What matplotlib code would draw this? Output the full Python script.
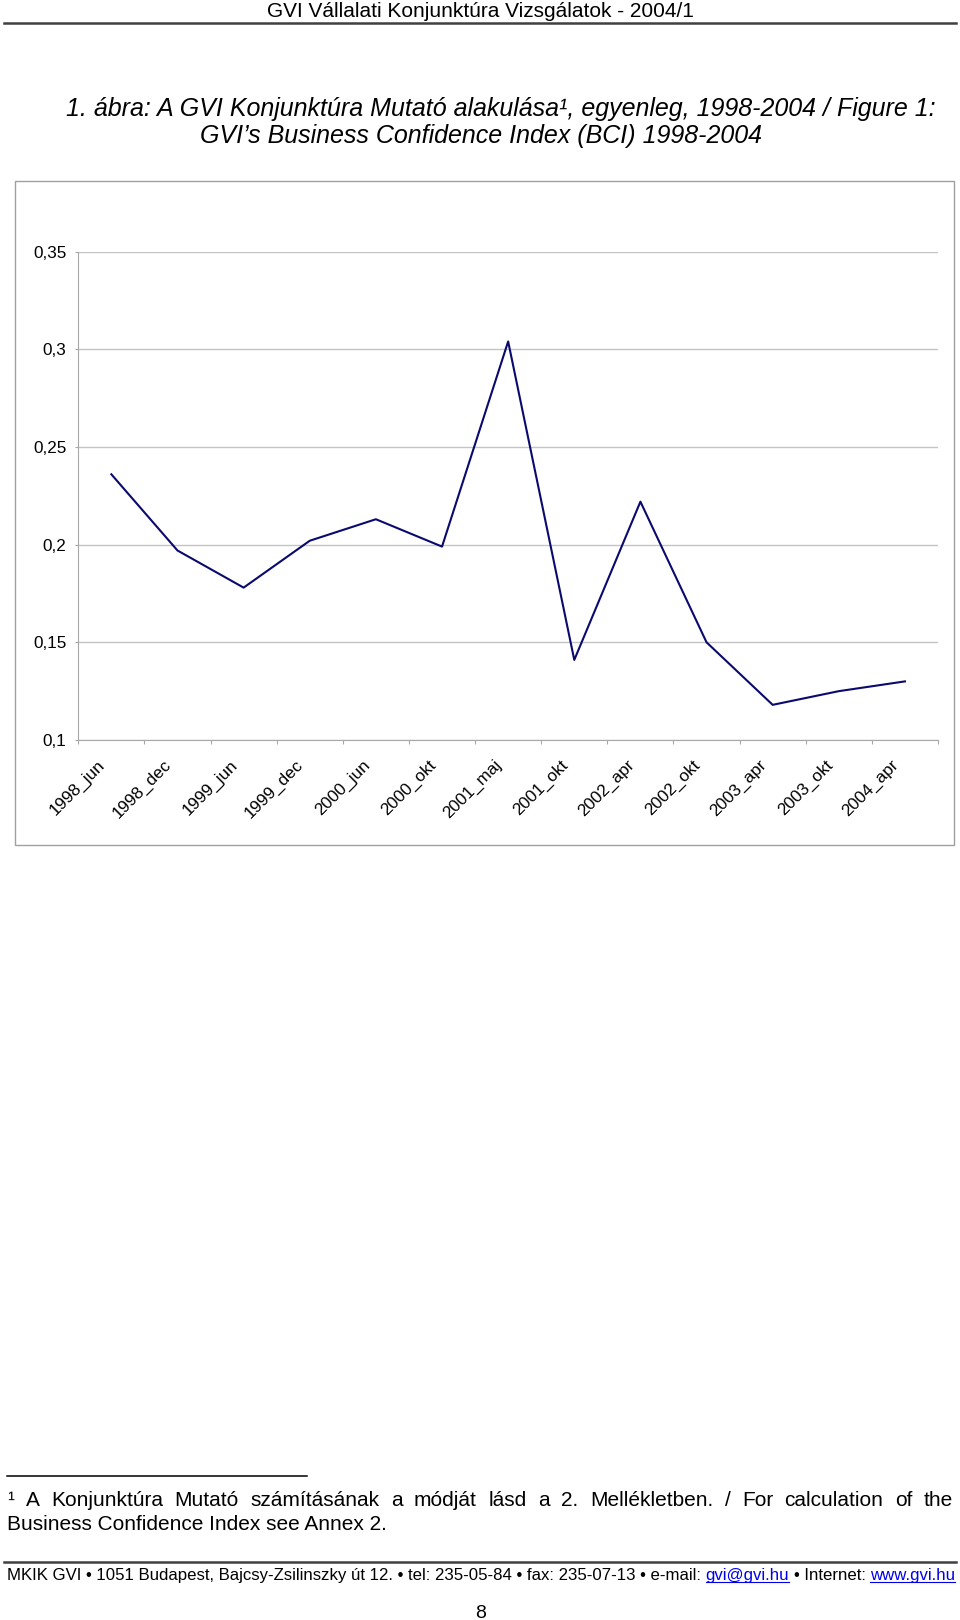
import matplotlib
matplotlib.use("Agg")
import matplotlib.pyplot as plt
import matplotlib.transforms as mtransforms
from matplotlib.lines import Line2D
from matplotlib.patches import Rectangle

plt.rcParams['font.family'] = ['Liberation Sans', 'DejaVu Sans']

# data
categories = ["1998_jun", "1998_dec", "1999_jun", "1999_dec", "2000_jun", "2000_okt",
              "2001_maj", "2001_okt", "2002_apr", "2002_okt", "2003_apr", "2003_okt", "2004_apr"]
bci = [0.236, 0.197, 0.178, 0.202, 0.213, 0.199, 0.304, 0.141, 0.222, 0.150, 0.118, 0.125, 0.130]
y_ticks = [0.1, 0.15, 0.2, 0.25, 0.3, 0.35]
y_tick_labels = ["0,1", "0,15", "0,2", "0,25", "0,3", "0,35"]

header = "GVI Vállalati Konjunktúra Vizsgálatok - 2004/1"
title1 = "1. ábra: A GVI Konjunktúra Mutató alakulása¹, egyenleg, 1998-2004 / Figure 1:"
title2 = "GVI’s Business Confidence Index (BCI) 1998-2004"
note1 = "¹ A Konjunktúra Mutató számításának a módját lásd a 2. Mellékletben. / For calculation of the"
note2 = "Business Confidence Index see Annex 2."
footer = [("MKIK GVI • 1051 Budapest, Bajcsy-Zsilinszky út 12. • tel: 235-05-84 • fax: 235-07-13 • e-mail:", False),
          ("gvi@gvi.hu", True), ("• Internet:", False), ("www.gvi.hu", True)]

W, H = 960, 1620
fig = plt.figure(figsize=(W/100, H/100), dpi=100)
renderer = fig.canvas.get_renderer()

def fx(x): return x / W
def fy(y): return 1 - y / H

def hline(x0, x1, y, lw, color):
    fig.add_artist(Line2D([fx(x0), fx(x1)], [fy(y), fy(y)], transform=fig.transFigure,
                          lw=lw, color=color))

def width(t):
    return t.get_window_extent(renderer).width

def space_width(size):
    a = fig.text(0, 0, "a a", fontsize=size)
    b = fig.text(0, 0, "aa", fontsize=size)
    w = width(a) - width(b)
    a.remove(); b.remove()
    return w

# page header
fig.text(fx(480), fy(17), header, fontsize=15.0, ha="center", va="baseline")
hline(4, 956, 23.3, 1.8, "#404040")

# figure title
fig.text(fx(501), fy(115.7), title1, fontsize=18, style="italic", ha="center", va="baseline")
fig.text(fx(481), fy(143.3), title2, fontsize=18, style="italic", ha="center", va="baseline")

# chart frame
fig.add_artist(Rectangle((fx(14.7), fy(845)), (954 - 14.7)/W, (845 - 181)/H, transform=fig.transFigure,
                         fill=False, edgecolor="#a0a0a0", lw=1.0))

ax = fig.add_axes([fx(78.3), fy(740), (938 - 78.3)/W, (740 - 251.6)/H])
x = list(range(len(categories)))
ax.plot(x, bci, color="#0a0a6e", lw=1.5, zorder=3)

ax.set_xlim(-0.5, len(categories) - 0.5)
ax.set_ylim(y_ticks[0], y_ticks[-1])
ax.set_yticks(y_ticks)
ax.set_yticklabels(y_tick_labels)
ax.yaxis.grid(True, color="#c4c4c4", lw=1.0)
ax.set_axisbelow(True)
for s in ["top", "right"]:
    ax.spines[s].set_visible(False)
for s in ["left", "bottom"]:
    ax.spines[s].set_color("#a8a8a8")
    ax.spines[s].set_linewidth(0.8)

ax.set_xticks(x)
ax.set_xticks([i - 0.5 for i in range(len(categories) + 1)], minor=True)
ax.set_xticklabels(categories, rotation=45, ha="right", va="top", rotation_mode="anchor")
ax.tick_params(axis="x", which="major", length=0, pad=12.5, labelsize=12.3)
ax.tick_params(axis="x", which="minor", length=3, width=0.8, color="#a8a8a8")
ax.tick_params(axis="y", length=2, width=0.8, color="#a8a8a8", pad=6.5, labelsize=12.3)
offset = mtransforms.ScaledTranslation(-14/100, 0, fig.dpi_scale_trans)
for lab in ax.get_xticklabels():
    lab.set_transform(lab.get_transform() + offset)

# footnote
hline(7, 307, 1476, 1.1, "black")
words = note1.split(" ")
texts = [fig.text(0, fy(1506), w, fontsize=15, va="baseline") for w in words]
widths = [width(t) for t in texts]
gap = (953 - 7 - sum(widths)) / (len(words) - 1)
pos = 7
for t, w in zip(texts, widths):
    t.set_x(fx(pos))
    pos += w + gap
fig.text(fx(7), fy(1529.5), note2, fontsize=15, va="baseline")

# page footer
hline(4, 956, 1561.7, 1.8, "#404040")
sw = space_width(12.05)
pos = 7
for part, link in footer:
    t = fig.text(fx(pos), fy(1580), part, fontsize=12.05, va="baseline",
                 color="#0000ee" if link else "black")
    w = width(t)
    if link:
        hline(pos, pos + w, 1582, 0.8, "#0000ee")
    pos += w + sw
fig.text(fx(480.7), fy(1618.3), "8", fontsize=14, ha="center", va="baseline")

fig.savefig("out.png", dpi=100)
